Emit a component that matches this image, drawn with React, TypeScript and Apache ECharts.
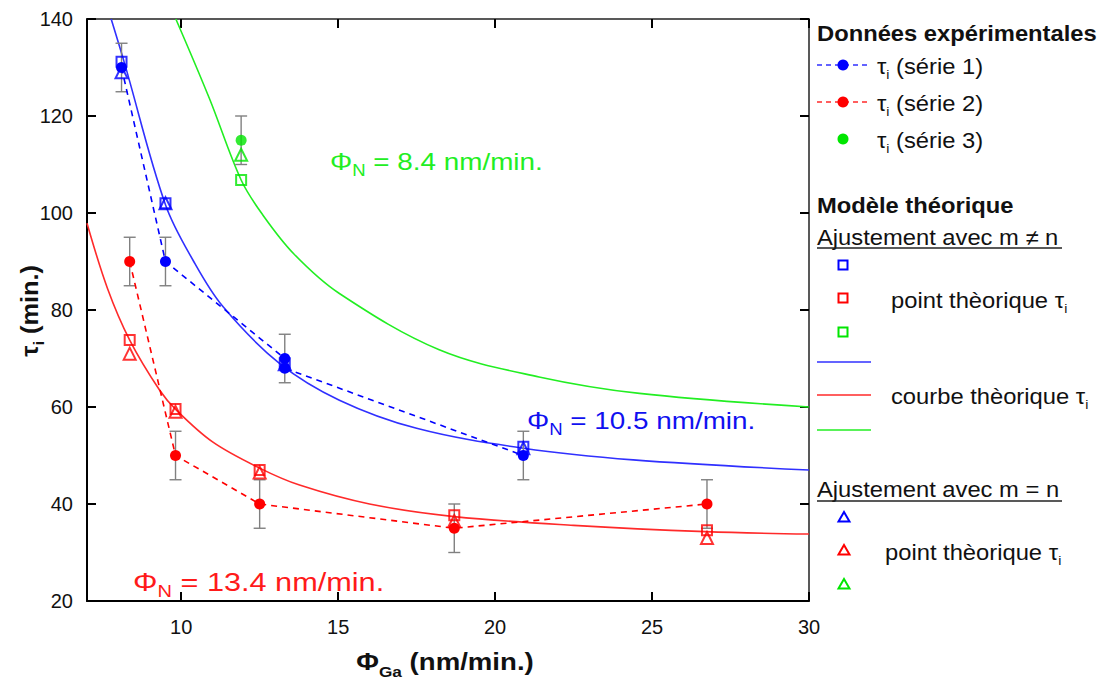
import React, { useEffect, useRef } from 'react';
import * as echarts from 'echarts';

// ---------- data ----------
const xMin = 7;
const xMax = 30;
const yMin = 20;
const yMax = 140;
const yStep = 20;

// experimental points (Φ_Ga, τ_i)
const serie1 = [[8.1, 130], [9.5, 90], [13.3, 70], [13.3, 68], [20.9, 50]];
const serie2 = [[8.36, 90], [9.82, 50], [12.5, 40], [18.7, 35], [26.75, 40]];
const serie3 = [[11.91, 115]];
// error bars [x, low, high]
const errorBars = [
  [8.1, 125, 135], [9.5, 85, 95], [13.3, 65, 75], [20.9, 45, 55],
  [8.36, 85, 95], [9.82, 45, 55], [12.5, 35, 45], [18.7, 30, 40], [26.75, 35, 45],
  [11.91, 110, 120],
];
// theoretical points, fit m ≠ n (squares)
const squaresBlue = [[8.1, 131.2], [9.5, 102], [13.3, 69], [20.9, 51.8]];
const squaresRed = [[8.36, 73.8], [9.82, 59.6], [12.5, 47], [18.7, 37.7], [26.75, 34.6]];
const squaresGreen = [[11.91, 106.8]];
// theoretical points, fit m = n (triangles)
const trianglesBlue = [[8.1, 129], [9.5, 102], [13.3, 68.8], [20.9, 51.5]];
const trianglesRed = [[8.36, 71], [9.82, 59], [12.5, 46.5], [18.7, 36.5], [26.75, 33]];
const trianglesGreen = [[11.91, 112]];
// theoretical curves
const curveBlue = [[7.77, 140], [8.19, 131], [9.5, 101.7], [10.4, 90], [11.33, 80.7], [13.13, 69], [15.04, 61.4], [17.5, 55.6], [20.9, 51.5], [24.4, 49.1], [30, 47]];
const curveRed = [[7, 97.9], [7.65, 84.5], [8.36, 73.8], [9.31, 63.5], [9.84, 59.4], [11, 52.8], [12.5, 47.4], [13.77, 43.9], [16, 40], [18.7, 37.4], [22.5, 35.6], [26.7, 34.3], [30, 33.8]];
const curveGreen = [[9.83, 140], [10.9, 123.6], [11.91, 106.8], [12.6, 99.6], [13.6, 91.5], [15.04, 83.4], [18.22, 71.8], [21.4, 66.2], [24.6, 62.8], [30, 60]];

// texts
const legendTitle1 = 'Données expérimentales';
const legendSeries = ['(série 1)', '(série 2)', '(série 3)'];
const legendTitle2 = 'Modèle théorique';
const fitNeq = 'Ajustement avec m ≠ n';
const fitEq = 'Ajustement avec m = n';
const pointLabel = 'point thèorique ';
const curveLabel = 'courbe thèorique ';
const annGreen = ' = 8.4 nm/min.';
const annBlue = ' = 10.5 nm/min.';
const annRed = ' = 13.4 nm/min.';

// ---------- style ----------
const FONT = '"Liberation Sans", Arial, Helvetica, sans-serif';
const BLUE = '#0000ff';
const RED = '#ff0000';
const GREEN = '#00e600';
const BLUE_L = '#3030ff';
const RED_L = '#ff2a2a';
const GREEN_L = '#22ee22';
const TXT = '#111111';

function richSub(fs: number, sfs: number, color: string, weight: string) {
  return {
    m: { fontSize: fs, lineHeight: fs + 9, fontFamily: FONT, fontWeight: weight, fill: color, color, verticalAlign: 'middle' },
    s: { fontSize: sfs, lineHeight: sfs, fontFamily: FONT, fontWeight: weight, fill: color, color, verticalAlign: 'bottom' },
  };
}

function textEl(x: number, y: number, text: string, opts: any = {}) {
  const fs = opts.fontSize || 22;
  const color = opts.color || TXT;
  const weight = opts.fontWeight || 'normal';
  return {
    type: 'text',
    x,
    y,
    rotation: opts.rotation || 0,
    scaleX: opts.scaleX || 1,
    z: 100,
    style: {
      text,
      rich: richSub(fs, opts.subSize || Math.round(fs * 0.62), color, weight),
      fill: color,
      fontSize: fs,
      fontFamily: FONT,
      fontWeight: weight,
      align: opts.align || 'left',
      textAlign: opts.align || 'left',
      verticalAlign: 'middle',
      textVerticalAlign: 'middle',
    },
  };
}

function lineEl(x1: number, y1: number, x2: number, y2: number, color: string, dash?: number[], w = 1.5) {
  return {
    type: 'line',
    z: 100,
    shape: { x1, y1, x2, y2 },
    style: { stroke: color, lineWidth: w, lineDash: dash || null },
  };
}

function squareEl(cx: number, cy: number, color: string) {
  return {
    type: 'rect', z: 100,
    shape: { x: cx - 4.5, y: cy - 4.5, width: 9, height: 9 },
    style: { fill: 'none', stroke: color, lineWidth: 2 },
  };
}

function triEl(cx: number, cy: number, color: string) {
  return {
    type: 'polygon', z: 100,
    shape: { points: [[cx, cy - 5], [cx + 5.5, cy + 4.5], [cx - 5.5, cy + 4.5]] },
    style: { fill: 'none', stroke: color, lineWidth: 2 },
  };
}

function circleEl(cx: number, cy: number, color: string) {
  return { type: 'circle', z: 101, shape: { cx, cy, r: 5.5 }, style: { fill: color } };
}

export default function App() {
  const ref = useRef<HTMLDivElement>(null);

  useEffect(() => {
    if (!ref.current) return;
    const chart = echarts.init(ref.current, undefined, { renderer: 'svg' });

    const axisLine = { show: true, lineStyle: { color: '#000', width: 2 } };
    const axisTick = { show: true, inside: true, length: 9, lineStyle: { color: '#000', width: 2 } };

    const scatter = (data: number[][], symbol: string, size: number, color: string, filled: boolean, z: number) => ({
      type: 'scatter',
      data,
      symbol,
      symbolSize: size,
      z,
      itemStyle: filled
        ? { color }
        : { color: 'rgba(255,255,255,0)', borderColor: color, borderWidth: 2 },
    });

    const curve = (data: number[][], color: string) => ({
      type: 'line',
      data,
      smooth: 0.35,
      showSymbol: false,
      symbol: 'none',
      z: 2,
      lineStyle: { color, width: 1.6 },
    });

    const dashed = (data: number[][], color: string) => ({
      type: 'line',
      data,
      symbol: 'circle',
      symbolSize: 11,
      showSymbol: true,
      z: 6,
      itemStyle: { color },
      lineStyle: { color, width: 1.6, type: [6, 5] },
    });

    const L = { fontSize: 22, subSize: 13, scaleX: 1.08 };
    const graphic: any[] = [
      // annotations
      textEl(330, 162, '{m|Φ}{s|N}{m|' + annGreen + '}', { color: GREEN_L, fontSize: 24, subSize: 16, scaleX: 1.16 }),
      textEl(527, 421, '{m|Φ}{s|N}{m|' + annBlue + '}', { color: '#1010f0', fontSize: 24, subSize: 16, scaleX: 1.16 }),
      textEl(133, 582, '{m|Φ}{s|N}{m|' + annRed + '}', { color: '#ff1a1a', fontSize: 26, subSize: 17, scaleX: 1.18 }),
      // axis titles
      textEl(30, 311, '{m|τ}{s|i}{m| (min.)}', { fontSize: 23, subSize: 15, fontWeight: 'bold', align: 'center', rotation: Math.PI / 2, scaleX: 1.1 }),
      textEl(445, 662, '{m|Φ}{s|Ga}{m| (nm/min.)}', { fontSize: 24, subSize: 15, fontWeight: 'bold', align: 'center', scaleX: 1.15 }),
      // legend: experimental
      textEl(817, 33, '{m|' + legendTitle1 + '}', { ...L, fontWeight: 'bold' }),
      lineEl(817, 65, 870, 65, BLUE_L, [5, 4]),
      circleEl(843, 65, BLUE),
      textEl(877, 66, '{m|τ}{s|i}{m| ' + legendSeries[0] + '}', L),
      lineEl(817, 102, 870, 102, RED_L, [5, 4]),
      circleEl(843, 102, RED),
      textEl(877, 103, '{m|τ}{s|i}{m| ' + legendSeries[1] + '}', L),
      circleEl(843, 139, GREEN),
      textEl(877, 140, '{m|τ}{s|i}{m| ' + legendSeries[2] + '}', L),
      // legend: model
      textEl(817, 205, '{m|' + legendTitle2 + '}', { ...L, fontWeight: 'bold' }),
      textEl(817, 237, '{m|' + fitNeq + '}', L),
      lineEl(817, 248, 1062, 248, '#222', undefined, 1.5),
      squareEl(843, 265, BLUE),
      squareEl(843, 298, RED),
      squareEl(843, 332, GREEN),
      textEl(891, 300, '{m|' + pointLabel + 'τ}{s|i}', L),
      lineEl(817, 362, 871, 362, BLUE_L, undefined, 1.6),
      lineEl(817, 395, 871, 395, RED_L, undefined, 1.6),
      lineEl(817, 430, 871, 430, GREEN_L, undefined, 1.6),
      textEl(891, 396, '{m|' + curveLabel + 'τ}{s|i}', L),
      textEl(817, 489, '{m|' + fitEq + '}', L),
      lineEl(817, 501, 1062, 501, '#222', undefined, 1.5),
      triEl(844, 517, BLUE),
      triEl(844, 550, RED),
      triEl(844, 584, GREEN),
      textEl(885, 552, '{m|' + pointLabel + 'τ}{s|i}', L),
    ];

    const option: any = {
      animation: false,
      backgroundColor: '#ffffff',
      grid: { left: 87, right: 293, top: 19, bottom: 82, containLabel: false },
      xAxis: [
        {
          type: 'value', min: xMin, max: xMax, position: 'bottom',
          axisLine, axisTick, splitLine: { show: false },
          axisLabel: { show: true, showMinLabel: false, margin: 16, color: '#111', fontSize: 20, fontFamily: FONT },
        },
        {
          type: 'value', min: xMin, max: xMax, position: 'top',
          axisLine: { show: true, lineStyle: { color: '#222', width: 1.5 } }, axisTick, splitLine: { show: false },
          axisLabel: { show: false },
        },
      ],
      yAxis: [
        {
          type: 'value', min: yMin, max: yMax, interval: yStep, position: 'left',
          axisLine, axisTick, splitLine: { show: false },
          axisLabel: { show: true, margin: 14, color: '#111', fontSize: 20, fontFamily: FONT },
        },
        {
          type: 'value', min: yMin, max: yMax, interval: yStep, position: 'right',
          axisLine: { show: true, lineStyle: { color: '#222', width: 1.5 } }, axisTick, splitLine: { show: false },
          axisLabel: { show: false },
        },
      ],
      series: [
        curve(curveGreen, GREEN_L),
        curve(curveBlue, BLUE_L),
        curve(curveRed, RED_L),
        {
          type: 'custom',
          z: 3,
          data: errorBars,
          encode: { x: 0, y: [1, 2] },
          renderItem: (params: any, api: any) => {
            const x = api.value(0);
            const lo = api.coord([x, api.value(1)]);
            const hi = api.coord([x, api.value(2)]);
            const hw = 6;
            const style = { stroke: '#808080', lineWidth: 1.4, fill: 'none' };
            return {
              type: 'group',
              children: [
                { type: 'line', shape: { x1: hi[0], y1: hi[1], x2: lo[0], y2: lo[1] }, style },
                { type: 'line', shape: { x1: hi[0] - hw, y1: hi[1], x2: hi[0] + hw, y2: hi[1] }, style },
                { type: 'line', shape: { x1: lo[0] - hw, y1: lo[1], x2: lo[0] + hw, y2: lo[1] }, style },
              ],
            };
          },
        },
        scatter(trianglesBlue, 'triangle', 12, BLUE, false, 4),
        scatter(trianglesRed, 'triangle', 12, RED, false, 4),
        scatter(trianglesGreen, 'triangle', 12, GREEN, false, 4),
        scatter(squaresBlue, 'rect', 10, BLUE, false, 5),
        scatter(squaresRed, 'rect', 10, RED, false, 5),
        scatter(squaresGreen, 'rect', 10, GREEN, false, 5),
        dashed(serie1, BLUE),
        dashed(serie2, RED),
        scatter(serie3, 'circle', 11, GREEN, true, 6),
      ],
      graphic,
    };

    chart.setOption(option);
    return () => chart.dispose();
  }, []);

  return (
    <div
      ref={ref}
      style={{ position: 'fixed', left: 0, top: 0, width: 1102, height: 683, background: '#fff' }}
    />
  );
}
